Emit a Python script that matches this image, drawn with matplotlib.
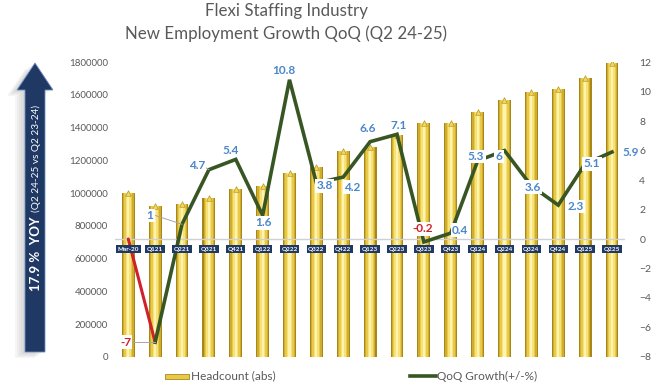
import matplotlib.pyplot as plt
import matplotlib.patches as mpatches
from matplotlib.lines import Line2D
import numpy as np

plt.rcParams['font.family'] = ['Lato', 'DejaVu Sans']

quarters = ['Mar-20', 'Q121', 'Q221', 'Q321', 'Q421', 'Q122', 'Q222', 'Q322', 'Q422', 'Q123',
            'Q223', 'Q323', 'Q423', 'Q124', 'Q224', 'Q324', 'Q424', 'Q125', 'Q225']
headcount = [1000000, 920000, 933000, 970000, 1025000, 1042000, 1123000, 1160000, 1257000, 1281000,
             1352000, 1428000, 1428000, 1495000, 1568000, 1617000, 1635000, 1702000, 1794000]
qoq = [0, -7, 1, 4.7, 5.4, 1.6, 10.8, 3.8, 4.2, 6.6,
       7.1, -0.2, 0.4, 5.3, 6, 3.6, 2.3, 5.1, 5.9]
qoq_text = ['', '-7', '1', '4.7', '5.4', '1.6', '10.8', '3.8', '4.2', '6.6',
            '7.1', '-0.2', '0.4', '5.3', '6', '3.6', '2.3', '5.1', '5.9']

# label placement (offsets from the point, in x-slots / right-axis units)
lab_dx = [0, -1.1, -1.2, -0.45, -0.2, 0.03, -0.2, 0.3, 0.33, -0.1,
          0.07, -0.03, 0.35, -0.06, -0.2, 0.05, 0.65, 0.25, 0.68]
lab_dy = [0, 0, 0.6, 0.3, 0.6, -0.5, 0.6, -0.2, -0.7, 0.9,
          0.6, 0.9, 0.2, 0.3, -0.4, -0.1, -0.1, 0, 0]
leader = [False, True, True, True, False, False, False, False, False, False,
          False, False, False, False, False, False, False, False, False]

blue_lab = '#4A86C8'
red = '#D0202A'
green = '#375623'
navy = '#1F3864'
grey_txt = '#595959'

fig = plt.figure(figsize=(6.58, 3.88), dpi=100)
ax = fig.add_axes([0.1745, 0.080, 0.776, 0.760])
ax2 = ax.twinx()

x = np.arange(len(quarters))
# pseudo-cylinder bars: layered widths
layers = [(0.48, '#A8861A'), (0.40, '#CFAE2E'), (0.30, '#E8C94A'), (0.19, '#F7E27A'), (0.08, '#FFF3B0')]
for w, c in layers:
    ax.bar(x, headcount, width=w, color=c, linewidth=0, zorder=2)
ax.scatter(x, headcount, marker='^', s=16, color='#F2D860', edgecolors='#B8961E', linewidths=0.5, zorder=3)

ax.set_ylim(0, 1800000)
ax.set_yticks(np.arange(0, 1800001, 200000))
ax.set_yticklabels([str(v) for v in range(0, 1800001, 200000)])
ax.set_xlim(-0.5, len(quarters) - 0.5)
ax.set_xticks([])
ax.tick_params(axis='y', length=0, labelsize=7, labelcolor=grey_txt, pad=5)

ax2.set_ylim(-8, 12)
ax2.set_yticks(np.arange(-8, 13, 2))
ax2.tick_params(axis='y', length=0, labelsize=7.5, labelcolor=grey_txt, pad=10)
for a in (ax, ax2):
    for s in a.spines.values():
        s.set_visible(False)

ax2.axhline(0, color='#D0D0D0', linewidth=1, zorder=1)

# growth line: first segment red, rest green
ax2.plot(x[:2], qoq[:2], color=red, linewidth=2.2, solid_capstyle='round', zorder=4)
ax2.plot(x[1:], qoq[1:], color=green, linewidth=2.6, solid_joinstyle='miter', zorder=4)

for i in range(len(quarters)):
    if not qoq_text[i]:
        continue
    col = red if qoq[i] < 0 else blue_lab
    lx, ly = x[i] + lab_dx[i], qoq[i] + lab_dy[i]
    if leader[i]:
        ax2.plot([lx + 0.2, x[i]], [ly, qoq[i]], color='#A6A6A6', linewidth=0.7, zorder=4)
    ax2.text(lx, ly, qoq_text[i], color=col, fontsize=8.5, fontweight='bold', ha='center', va='center',
             bbox=dict(boxstyle='square,pad=0.12', facecolor='white', edgecolor='none'), zorder=6)

# category labels on the zero line
for i, q in enumerate(quarters):
    ax2.text(x[i], -0.68, q, color='white', fontsize=4.6, fontweight='bold', ha='center', va='center',
             bbox=dict(boxstyle='square,pad=0.25', facecolor=navy, edgecolor='none'), zorder=5)

# title
fig.text(0.435, 0.992, 'Flexi Staffing Industry', ha='center', va='top', fontsize=12.2, color='#595959')
fig.text(0.435, 0.935, 'New Employment Growth QoQ (Q2 24-25)', ha='center', va='top', fontsize=12.2, color='#595959')

# YOY arrow with soft shadow
W, H = 658.0, 388.0
def px(pts):
    return [(a / W, 1 - b / H) for a, b in pts]
arrow_pts = [(25, 352), (25, 90), (17, 90), (35, 63), (53, 90), (45, 90), (45, 352)]
for k in range(5):
    off = 2 + 2 * k
    sh = [(a - off, b + off * 0.6) for a, b in arrow_pts]
    fig.add_artist(mpatches.Polygon(px(sh), closed=True, facecolor='#808080', edgecolor='none', alpha=0.07))
fig.add_artist(mpatches.Polygon(px(arrow_pts), closed=True, facecolor=navy, edgecolor='#6F8FC0', linewidth=0.6))
t1 = fig.text(36 / W, 1 - 291 / H, '17.9 %  YOY', rotation=90, rotation_mode='anchor', ha='left', va='center',
              color='white', fontsize=9.5, fontweight='bold')
fig.canvas.draw()
bb = t1.get_window_extent()
fig.text(36 / W, (bb.y1 + 5) / H, '(Q2 24-25 vs Q2 23-24)', rotation=90, rotation_mode='anchor', ha='left', va='center',
         color='white', fontsize=7.2)

# legend
fig.add_artist(mpatches.Rectangle((165 / W, 1 - 379 / H), 24 / W, 5 / H, facecolor='#E8C94A', edgecolor='#A8861A', linewidth=0.6))
fig.text(191 / W, 1 - 376 / H, 'Headcount (abs)', ha='left', va='center', fontsize=8.5, color=grey_txt)
fig.add_artist(Line2D([410 / W, 436 / W], [1 - 376 / H, 1 - 376 / H], color=green, linewidth=2.6))
fig.text(437 / W, 1 - 376 / H, 'QoQ Growth(+/-%)', ha='left', va='center', fontsize=8.5, color=grey_txt)

fig.savefig('out.png', dpi=100)
